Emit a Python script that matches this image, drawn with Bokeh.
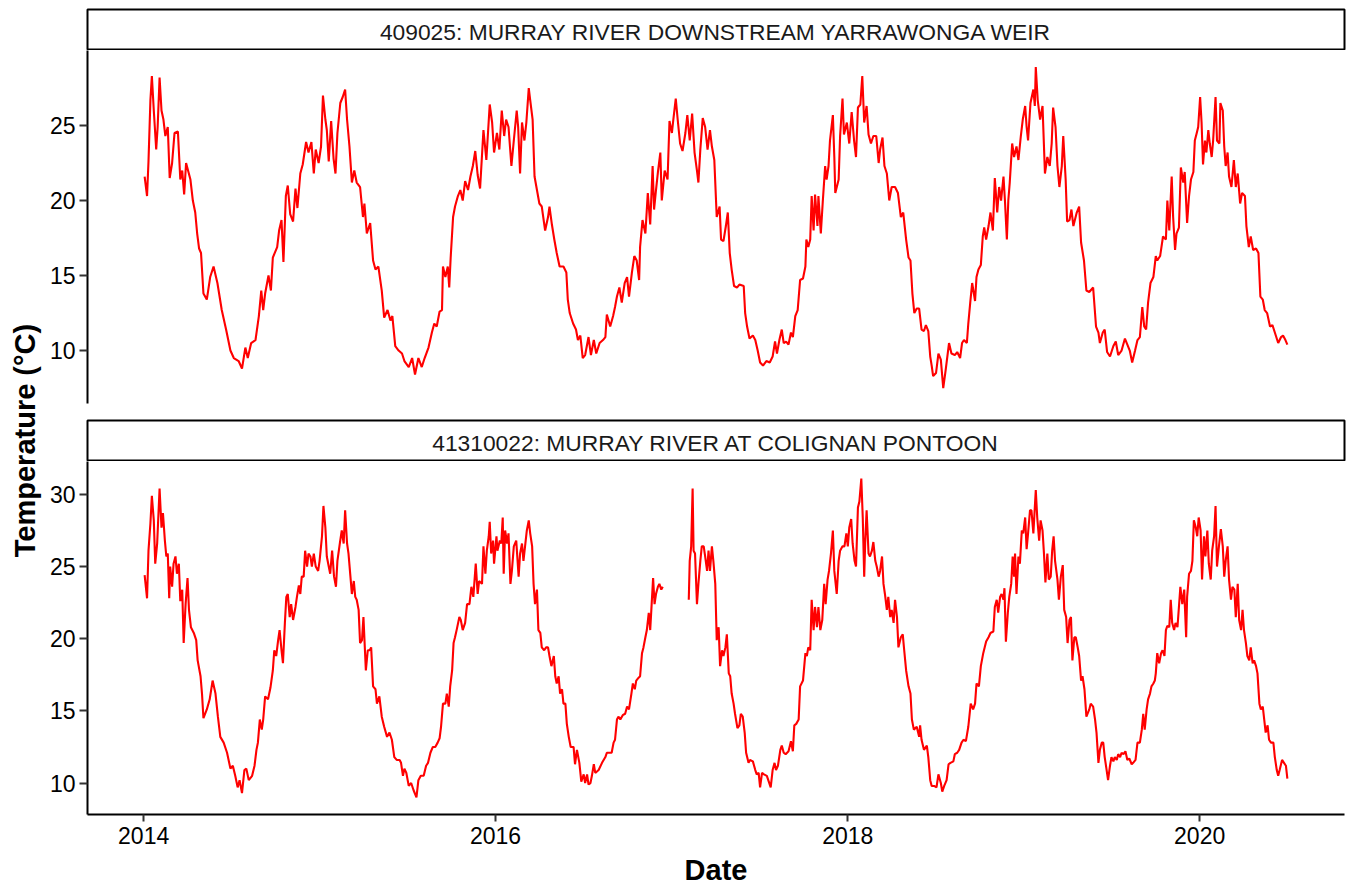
import math
import numpy as np
from bokeh.plotting import figure
from bokeh.models import Range1d, FixedTicker, DatetimeTickFormatter, ColumnDataSource
from bokeh.layouts import column, row
from bokeh.core.properties import value
from bokeh.embed import file_html
from bokeh.resources import INLINE

# ---------------- data (day offset from 2014-01-01, water temperature degC) ----------------
strip_titles = ["409025: MURRAY RIVER DOWNSTREAM YARRAWONGA WEIR",
                "41310022: MURRAY RIVER AT COLIGNAN PONTOON"]

station_409025 = [
    (2,21.6),(7,20.3),(10,22.6),(14,26.7),(17,28.3),(21,26.0),(26,23.4),(29,24.9),(33,28.2),(37,26.0),
    (41,25.4),(45,24.3),(50,24.9),(54,21.5),(59,22.5),(64,24.5),(71,24.6),(76,21.4),(80,22.0),(84,20.4),
    (88,22.5),(97,21.4),(102,20.0),(107,19.2),(111,17.8),(115,16.8),(119,16.5),(124,13.8),(131,13.4),(138,14.9),
    (145,15.6),(153,14.5),(162,12.7),(171,11.4),(180,10.0),(187,9.5),(197,9.3),(204,8.8),(211,10.2),(216,9.5),
    (223,10.5),(232,10.7),(239,12.3),(244,14.0),(248,12.7),(252,13.8),(259,15.0),(264,14.0),(268,16.2),(277,16.9),
    (281,18.0),(286,18.7),(290,15.9),(295,20.3),(299,21.0),(304,19.1),(310,18.6),(315,20.8),(319,19.5),(325,21.8),
    (330,22.4),(337,23.9),(342,23.2),(348,23.9),(353,21.8),(357,23.4),(363,22.5),(368,23.6),(372,27.0),(377,25.4),
    (380,24.7),(384,22.6),(389,25.3),(394,22.8),(398,21.8),(402,24.5),(408,26.5),(413,26.9),(418,27.4),(422,25.4),
    (427,23.6),(432,21.2),(437,22.0),(442,21.2),(449,20.9),(455,18.9),(458,19.8),(463,17.8),(470,18.5),(476,16.0),
    (481,15.4),(487,15.6),(494,14.0),(499,12.2),(506,12.7),(512,12.0),(516,12.3),(522,10.3),(529,10.0),(536,9.8),
    (541,9.3),(550,8.9),(557,9.5),(563,8.4),(570,9.5),(577,8.9),(583,9.5),(591,10.2),(598,11.2),(603,11.8),
    (608,11.6),(614,12.6),(619,12.7),(621,15.6),(626,14.9),(631,15.6),(634,14.2),(637,16.2),(642,18.9),(646,19.6),
    (652,20.3),(657,20.7),(662,20.0),(667,21.3),(673,20.7),(678,21.6),(683,22.3),(688,23.3),(693,21.7),(698,20.8),
    (705,24.7),(711,22.7),(718,26.4),(723,25.2),(727,23.2),(733,24.5),(738,23.4),(743,26.0),(748,24.3),(752,25.4),
    (757,24.9),(763,22.3),(768,24.0),(774,26.0),(777,24.9),(781,21.8),(785,25.2),(790,24.0),(794,25.2),(799,27.5),
    (802,26.7),(807,25.4),(811,21.6),(816,20.7),(821,19.8),(826,19.6),(833,18.0),(839,18.9),(842,19.6),(847,18.4),
    (852,17.4),(857,16.5),(863,15.6),(871,15.6),(877,15.2),(880,13.4),(884,12.5),(891,11.8),(897,11.4),(901,10.7),
    (906,11.0),(911,9.5),(916,9.7),(923,10.9),(928,9.7),(934,10.7),(939,9.8),(946,10.5),(953,10.7),(958,10.9),
    (961,12.4),(968,11.6),(974,12.3),(978,12.9),(982,13.6),(987,14.2),(992,13.2),(998,14.5),(1003,14.9),(1007,13.6),
    (1013,15.2),(1018,16.3),(1023,16.0),(1028,14.7),(1030,16.9),(1035,18.7),(1041,17.8),(1046,20.5),(1051,18.4),(1056,22.3),
    (1059,19.4),(1063,20.7),(1067,21.9),(1072,23.2),(1075,20.0),(1081,22.0),(1087,21.4),(1091,25.3),(1096,24.5),(1099,25.4),
    (1104,26.8),(1108,25.4),(1113,23.8),(1118,23.3),(1124,24.5),(1128,25.7),(1133,24.0),(1138,25.8),(1143,23.2),(1148,22.0),
    (1151,21.2),(1155,23.4),(1160,25.5),(1165,24.9),(1170,23.4),(1175,24.7),(1179,23.6),(1184,22.7),(1189,18.9),(1195,19.6),
    (1198,17.4),(1203,17.3),(1208,18.3),(1212,19.2),(1216,16.5),(1220,15.4),(1225,14.3),(1231,14.2),(1236,14.4),(1245,14.3),
    (1248,12.5),(1252,11.6),(1257,10.8),(1264,11.0),(1269,10.7),(1274,10.0),(1279,9.2),(1285,9.0),(1292,9.3),(1299,9.2),
    (1305,9.6),(1310,10.6),(1314,9.8),(1319,10.7),(1324,11.4),(1328,10.5),(1333,10.6),(1338,10.4),(1343,11.2),(1347,10.9),
    (1352,12.3),(1357,12.7),(1362,14.7),(1368,14.8),(1373,15.6),(1375,17.4),(1379,16.9),(1383,17.4),(1386,20.3),(1390,18.0),
    (1393,20.4),(1398,18.3),(1400,20.3),(1405,17.8),(1409,19.9),(1414,22.3),(1417,21.4),(1421,22.3),(1424,24.0),(1430,25.7),
    (1433,22.9),(1435,20.5),(1442,21.4),(1445,24.3),(1450,26.8),(1453,24.4),(1459,25.2),(1464,23.8),(1469,25.9),(1474,24.0),
    (1478,22.9),(1482,26.2),(1487,26.4),(1491,28.3),(1495,25.2),(1500,26.3),(1504,24.4),(1509,23.8),(1514,24.3),(1520,24.3),
    (1525,22.5),(1528,23.4),(1533,24.2),(1537,22.3),(1542,21.8),(1547,20.0),(1552,20.9),(1559,20.9),(1565,20.5),(1571,18.9),
    (1576,19.2),(1582,17.4),(1587,16.2),(1591,16.0),(1595,13.8),(1599,12.5),(1604,12.8),(1609,12.8),(1614,11.4),(1619,11.3),
    (1623,11.7),(1628,11.3),(1632,9.6),(1635,9.0),(1638,8.3),(1644,8.5),(1649,9.8),(1654,9.4),(1659,7.5),(1664,8.7),
    (1671,10.5),(1676,9.8),(1683,9.7),(1688,9.9),(1694,9.5),(1698,10.5),(1702,10.7),(1708,10.5),(1711,11.8),(1715,13.2),
    (1719,14.5),(1725,13.3),(1728,14.9),(1732,15.4),(1737,15.7),(1741,17.6),(1744,18.2),(1748,17.4),(1753,18.3),(1757,19.2),
    (1762,18.0),(1766,21.5),(1771,19.2),(1775,20.9),(1779,20.0),(1784,21.6),(1787,20.0),(1791,17.4),(1794,20.0),(1797,21.2),
    (1802,23.8),(1806,22.9),(1811,23.6),(1815,22.7),(1820,24.3),(1824,25.4),(1829,26.3),(1832,24.9),(1835,24.0),(1840,26.5),
    (1846,27.4),(1849,26.3),(1851,28.9),(1855,26.7),(1860,25.4),(1865,26.3),(1870,21.8),(1875,22.9),(1880,22.3),(1884,23.8),
    (1887,26.2),(1892,24.9),(1896,22.3),(1900,20.9),(1905,22.3),(1908,24.3),(1913,21.4),(1916,18.6),(1921,18.7),(1925,19.4),
    (1929,18.3),(1936,19.2),(1941,19.6),(1945,17.2),(1951,16.0),(1956,14.0),(1962,13.9),(1970,14.2),(1976,11.6),(1981,11.2),
    (1984,10.5),(1990,11.2),(1994,11.4),(1999,9.9),(2005,9.6),(2012,10.3),(2017,10.6),(2022,9.7),(2029,10.0),(2036,10.8),
    (2041,10.4),(2046,10.0),(2051,9.2),(2057,10.0),(2062,10.7),(2067,10.9),(2072,12.9),(2076,11.6),(2080,11.4),(2084,13.2),
    (2089,14.5),(2095,14.9),(2100,16.3),(2103,16.0),(2109,16.3),(2115,17.6),(2121,17.4),(2124,20.0),(2128,18.0),(2133,21.6),
    (2136,18.9),(2140,16.7),(2143,17.8),(2148,18.2),(2152,22.2),(2157,21.2),(2160,21.9),(2165,18.5),(2169,20.3),(2173,21.4),
    (2178,21.9),(2181,24.0),(2185,24.5),(2188,24.9),(2192,26.9),(2195,25.2),(2198,22.4),(2202,24.0),(2205,23.2),(2209,24.7),
    (2212,23.8),(2216,22.9),(2219,24.0),(2224,26.9),(2227,24.0),(2232,23.8),(2234,26.5),(2239,26.0),(2242,23.6),(2245,22.3),
    (2249,23.2),(2252,21.6),(2257,20.9),(2262,22.7),(2266,20.9),(2270,21.8),(2275,19.8),(2279,20.5),(2285,20.3),(2288,18.3),
    (2293,16.9),(2297,17.6),(2302,16.7),(2308,16.8),(2313,16.5),(2317,13.6),(2322,13.4),(2326,12.7),(2331,12.5),(2337,11.6),
    (2342,11.7),(2347,11.2),(2354,10.5),(2360,10.9),(2364,11.0),(2369,10.7),(2373,10.4),
]

station_41310022 = [
    (2,24.4),(7,22.8),(10,26.1),(14,28.0),(17,29.9),(21,28.2),(24,25.2),(28,26.6),(31,28.9),(33,30.4),
    (37,27.7),(40,28.7),(44,26.8),(47,25.7),(50,25.9),(53,22.8),(55,25.0),(59,23.6),(62,25.2),(66,25.7),
    (69,24.5),(73,25.2),(76,22.6),(80,23.4),(83,19.7),(87,22.4),(91,24.2),(94,22.0),(98,20.8),(104,20.4),
    (109,19.9),(112,18.5),(118,17.4),(121,16.2),(124,14.5),(131,15.1),(137,15.8),(143,17.1),(149,16.2),(154,14.6),
    (159,13.2),(166,12.8),(173,12.1),(180,11.0),(185,11.2),(190,10.5),(195,9.7),(199,10.2),(204,9.3),(209,10.9),
    (213,11.0),(218,10.2),(225,10.5),(230,11.2),(234,12.3),(237,12.8),(241,14.4),(245,13.7),(248,14.4),(252,16.0),
    (258,15.8),(263,16.6),(268,17.8),(271,19.2),(275,18.8),(279,19.9),(282,20.6),(286,19.2),(289,18.3),(293,21.1),
    (296,22.9),(299,23.1),(303,21.5),(306,22.4),(310,21.3),(315,22.2),(318,22.9),(322,23.7),(325,23.1),(328,24.3),
    (332,24.3),(335,26.1),(339,25.0),(342,25.9),(346,25.7),(349,25.0),(353,25.9),(357,25.0),(362,24.7),(365,25.4),
    (370,27.1),(373,29.2),(377,27.7),(380,25.7),(384,25.0),(387,24.5),(391,26.1),(395,24.3),(399,23.6),(402,25.4),
    (407,26.6),(411,27.5),(415,26.6),(418,28.9),(422,26.6),(425,25.9),(429,24.3),(432,23.1),(436,24.0),(439,22.9),
    (442,22.7),(446,22.0),(449,19.7),(453,19.9),(456,21.5),(461,17.8),(465,19.2),(469,19.2),(472,19.4),(476,16.7),
    (481,16.5),(484,15.5),(489,16.0),(494,14.6),(499,13.9),(505,13.2),(510,13.5),(515,13.0),(520,11.8),(525,11.6),
    (531,11.6),(534,11.4),(538,10.5),(541,11.0),(545,10.7),(550,9.8),(555,10.0),(560,9.5),(566,9.0),(570,10.2),
    (575,10.5),(581,10.5),(586,11.2),(590,11.4),(595,12.1),(600,12.5),(605,12.5),(610,12.8),(614,13.1),(617,13.9),
    (621,15.5),(626,15.5),(629,16.2),(633,15.3),(636,16.7),(640,17.8),(643,19.7),(646,20.1),(650,20.7),(655,21.5),
    (658,21.3),(662,20.6),(667,21.1),(671,22.4),(676,22.4),(680,23.6),(684,22.9),(689,25.2),(693,23.1),(696,24.0),
    (702,23.8),(705,26.4),(709,24.5),(712,26.1),(716,27.1),(718,28.1),(721,25.9),(725,26.8),(727,25.2),(732,27.1),
    (734,26.1),(739,26.8),(742,26.6),(745,28.4),(747,24.5),(750,27.5),(754,26.6),(757,27.3),(761,23.8),(764,24.7),
    (768,26.4),(773,26.8),(778,24.3),(781,25.9),(785,26.6),(788,25.4),(792,26.6),(795,27.5),(799,28.2),(802,27.3),
    (806,26.4),(809,23.8),(812,22.4),(816,23.4),(819,20.6),(823,20.4),(826,19.4),(831,19.2),(835,19.4),(839,19.4),
    (842,18.8),(846,18.1),(851,18.8),(854,17.4),(857,16.9),(861,17.4),(864,16.2),(868,16.5),(871,15.5),(875,15.5),
    (878,14.1),(882,13.2),(886,12.5),(892,12.5),(895,11.3),(899,12.3),(904,11.4),(908,10.1),(913,10.6),(916,10.0),
    (920,10.6),(923,9.9),(927,10.0),(930,10.5),(934,11.3),(937,10.7),(944,10.9),(951,11.4),(958,11.8),(961,12.1),
    (965,12.1),(971,12.1),(975,12.8),(978,13.0),(982,14.4),(985,14.6),(989,14.4),(994,14.7),(999,14.8),(1003,15.3),
    (1007,15.1),(1012,16.2),(1015,16.9),(1019,16.5),(1022,17.1),(1027,17.3),(1030,17.4),(1034,19.0),(1037,19.4),(1041,20.1),
    (1044,20.6),(1048,21.8),(1051,20.6),(1054,22.4),(1057,24.2),(1060,22.4),(1063,23.1),(1067,23.6),(1070,23.8),(1074,23.4),
    (1077,23.6),(1100,float("nan")),
    (1131,22.7),(1133,25.4),(1136,26.4),(1139,30.4),(1141,26.1),(1144,25.9),(1148,22.4),(1151,23.8),(1155,25.4),(1158,26.4),
    (1162,26.4),(1165,25.7),(1169,24.7),(1172,26.1),(1175,24.7),(1179,26.4),(1182,25.4),(1186,23.8),(1189,19.9),(1193,20.8),
    (1196,18.1),(1200,19.2),(1203,18.8),(1207,19.4),(1210,20.3),(1214,17.6),(1217,17.4),(1220,16.2),(1224,15.5),(1227,14.8),
    (1232,13.8),(1236,14.0),(1239,14.8),(1243,14.6),(1247,13.5),(1250,12.1),(1255,11.4),(1258,11.6),(1264,11.5),(1269,10.9),
    (1272,10.6),(1276,10.7),(1279,9.7),(1283,10.7),(1287,10.6),(1293,10.5),(1297,10.1),(1301,9.7),(1305,10.9),(1309,11.4),
    (1312,10.9),(1316,11.2),(1321,12.3),(1324,12.6),(1328,12.1),(1332,12.0),(1338,12.2),(1343,12.9),(1347,12.2),(1350,14.0),
    (1354,14.1),(1359,14.4),(1362,16.7),(1368,17.1),(1373,19.0),(1376,18.8),(1379,19.4),(1383,19.2),(1386,22.7),(1390,20.6),
    (1393,22.2),(1397,20.8),(1400,22.2),(1404,20.6),(1408,21.3),(1412,23.8),(1415,22.4),(1419,24.1),(1422,24.7),(1426,25.9),
    (1430,27.5),(1433,24.7),(1438,23.1),(1442,25.4),(1445,26.1),(1450,26.4),(1454,26.4),(1458,27.3),(1461,26.4),(1464,27.7),
    (1468,28.3),(1471,26.6),(1475,25.4),(1478,25.0),(1482,29.1),(1485,29.5),(1489,31.1),(1492,28.4),(1495,24.3),(1497,26.6),
    (1500,28.9),(1504,25.9),(1507,25.7),(1511,26.1),(1514,26.7),(1518,25.4),(1521,25.0),(1525,24.3),(1528,24.7),(1532,25.7),
    (1535,23.8),(1538,23.1),(1542,22.0),(1545,22.9),(1549,21.5),(1552,22.0),(1556,21.1),(1559,22.7),(1563,21.5),(1566,19.4),
    (1571,20.1),(1575,20.3),(1578,19.2),(1582,17.8),(1587,16.7),(1591,16.2),(1594,14.4),(1598,13.7),(1604,13.9),(1609,13.2),
    (1611,14.0),(1614,13.0),(1619,12.3),(1625,12.6),(1628,11.8),(1632,10.2),(1635,9.8),(1640,9.8),(1645,9.7),(1649,10.6),
    (1654,10.0),(1657,9.4),(1661,9.8),(1666,10.2),(1670,11.3),(1674,11.4),(1680,11.5),(1683,12.0),(1688,12.1),(1692,12.3),
    (1697,12.8),(1701,13.0),(1706,12.9),(1711,13.9),(1716,15.5),(1721,15.1),(1725,15.5),(1728,16.9),(1733,16.7),(1737,18.1),
    (1742,19.0),(1748,19.8),(1753,20.1),(1757,20.4),(1763,20.5),(1766,22.2),(1770,22.7),(1773,21.8),(1777,22.9),(1780,23.1),
    (1784,22.7),(1786,23.5),(1789,19.8),(1793,21.8),(1796,22.9),(1800,23.8),(1803,25.7),(1806,24.3),(1808,25.9),(1811,23.1),
    (1815,25.7),(1818,25.2),(1822,27.5),(1825,27.3),(1829,28.4),(1832,26.2),(1835,27.3),(1839,28.9),(1842,28.9),(1846,27.3),
    (1849,29.1),(1851,30.3),(1854,28.4),(1858,26.8),(1861,28.2),(1865,27.5),(1868,25.9),(1871,23.9),(1875,25.9),(1878,24.1),
    (1882,24.3),(1885,26.1),(1888,27.1),(1891,25.4),(1896,24.1),(1899,22.7),(1903,24.3),(1907,25.1),(1910,22.0),(1914,21.5),
    (1917,19.7),(1921,21.3),(1924,21.5),(1927,18.5),(1931,20.1),(1934,20.1),(1938,19.4),(1941,18.8),(1945,17.1),(1948,17.4),
    (1952,16.5),(1956,14.6),(1962,15.1),(1965,15.5),(1970,15.3),(1974,14.4),(1977,13.5),(1981,11.4),(1984,12.3),(1988,12.8),
    (1991,12.8),(1994,11.8),(1998,10.9),(2001,10.2),(2005,11.2),(2008,11.8),(2012,11.5),(2015,11.8),(2019,11.6),(2022,12.0),
    (2026,11.8),(2029,12.1),(2033,12.0),(2037,12.2),(2041,11.6),(2045,11.7),(2050,11.3),(2053,11.4),(2058,11.6),(2062,12.8),
    (2067,12.8),(2071,13.7),(2074,14.8),(2077,13.7),(2081,15.1),(2084,15.8),(2088,16.2),(2091,16.7),(2095,16.9),(2098,17.1),
    (2100,17.6),(2103,19.0),(2107,18.3),(2111,19.0),(2114,19.2),(2118,18.8),(2121,20.6),(2124,20.9),(2128,20.8),(2131,22.7),
    (2134,21.1),(2138,20.6),(2141,21.1),(2145,20.8),(2148,22.2),(2151,23.6),(2155,22.4),(2159,23.4),(2163,20.1),(2165,22.9),
    (2169,24.5),(2173,24.7),(2176,25.4),(2179,28.2),(2183,27.7),(2186,27.1),(2189,28.4),(2193,27.5),(2196,24.1),(2200,27.1),
    (2203,25.7),(2207,27.5),(2210,25.2),(2214,24.1),(2217,26.1),(2221,27.1),(2224,29.2),(2227,25.0),(2231,26.4),(2235,27.6),
    (2239,26.4),(2242,24.3),(2245,25.4),(2249,26.4),(2252,24.1),(2256,22.7),(2259,23.6),(2263,23.4),(2266,21.5),(2270,23.8),
    (2273,21.3),(2277,20.6),(2280,22.0),(2283,20.6),(2287,19.7),(2290,18.8),(2294,18.5),(2297,19.4),(2301,18.3),(2304,18.5),
    (2308,18.1),(2311,17.6),(2315,15.5),(2318,15.1),(2322,15.3),(2325,14.4),(2328,13.5),(2332,14.0),(2335,13.0),(2339,12.8),
    (2344,12.8),(2347,11.8),(2351,10.9),(2354,10.5),(2357,10.9),(2362,11.6),(2366,11.4),(2370,11.2),(2373,10.3),
]

start_date = "2014-01-01"
x_tick_years = [2014, 2016, 2018, 2020]
y_ticks_top = [10, 15, 20, 25]
y_ticks_bottom = [10, 15, 20, 25, 30]
y_limits_top = (6.47, 30.0)
y_limits_bottom = (7.82, 32.28)
x_label = "Date"
y_label = "Temperature (\u00b0C)"

# ---------------- helpers ----------------
FONT = value("Liberation Sans")
origin = np.datetime64(start_date)


def to_source(series):
    days = np.array([d for d, _ in series], dtype=float)
    temps = np.array([t for _, t in series], dtype=float)
    dates = origin + (days * 86400000).astype("timedelta64[ms]")
    return ColumnDataSource(dict(date=dates, temp=temps)), days


src_top, days_top = to_source(station_409025)
src_bot, days_bot = to_source(station_41310022)
all_days = np.concatenate([days_top, days_bot])
pad = 0.05 * (all_days.max() - all_days.min())
x_start = origin + np.timedelta64(int((all_days.min() - pad) * 86400000), "ms")
x_end = origin + np.timedelta64(int((all_days.max() + pad) * 86400000), "ms")
x_range = Range1d(start=x_start, end=x_end)

tick_ms = [float((np.datetime64(f"{y}-01-01") - np.datetime64("1970-01-01")) / np.timedelta64(1, "ms"))
           for y in x_tick_years]

COL_W = 1304
LEFT = 42
RIGHT = 5
TICK_FONT = "23px"


def strip(title, height, top):
    s = figure(width=COL_W, height=height, x_range=Range1d(0, 1), y_range=Range1d(0, 1),
               output_backend="svg", toolbar_location=None,
               min_border_left=LEFT, min_border_right=RIGHT, min_border_top=top, min_border_bottom=0)
    s.axis.visible = False
    s.grid.visible = False
    s.outline_line_color = "black"
    s.outline_line_width = 2
    s.background_fill_color = "white"
    s.border_fill_color = "white"
    s.text(x=[0.5], y=[0.45], text=[title], text_align="center", text_baseline="middle",
           text_font=FONT, text_font_size="22.8px", text_color="#1A1A1A")
    return s


def panel(src, height, bottom, yr, yticks, show_x):
    p = figure(width=COL_W, height=height, x_range=x_range, y_range=Range1d(*yr),
               x_axis_type="datetime", output_backend="svg", toolbar_location=None,
               min_border_left=LEFT, min_border_right=RIGHT, min_border_top=0, min_border_bottom=bottom)
    p.grid.visible = False
    p.outline_line_color = None
    p.background_fill_color = "white"
    p.border_fill_color = "white"
    p.line(x="date", y="temp", source=src, line_color="#FF0000", line_width=2.1)

    ya = p.yaxis[0]
    ya.ticker = FixedTicker(ticks=yticks)
    ya.axis_line_color = "black"
    ya.axis_line_width = 2
    ya.major_tick_line_color = "#333333"
    ya.major_tick_line_width = 2
    ya.major_tick_out = 8
    ya.major_tick_in = 0
    ya.minor_tick_line_color = None
    ya.major_label_standoff = 4
    ya.major_label_text_font = "Liberation Sans"
    ya.major_label_text_font_size = TICK_FONT
    ya.major_label_text_color = "black"

    xa = p.xaxis[0]
    if show_x:
        xa.ticker = FixedTicker(ticks=tick_ms)
        xa.formatter = DatetimeTickFormatter(years="%Y", months="%Y", days="%Y", hours="%Y",
                                             minutes="%Y", seconds="%Y", milliseconds="%Y",
                                             microseconds="%Y")
        xa.axis_line_color = "black"
        xa.axis_line_width = 2
        xa.major_tick_line_color = "#333333"
        xa.major_tick_line_width = 2
        xa.major_tick_out = 7
        xa.major_tick_in = 0
        xa.minor_tick_line_color = None
        xa.major_label_standoff = 5
        xa.major_label_text_font = "Liberation Sans"
        xa.major_label_text_font_size = TICK_FONT
        xa.major_label_text_color = "black"
        xa.axis_label = x_label
        xa.axis_label_text_font = "Liberation Sans"
        xa.axis_label_text_font_size = "29px"
        xa.axis_label_text_font_style = "bold"
        xa.axis_label_text_color = "black"
        xa.axis_label_standoff = 7
    else:
        xa.visible = False
    return p


strip1 = strip(strip_titles[0], 50, 9)
top = panel(src_top, 360, 7, y_limits_top, y_ticks_top, False)
strip2 = strip(strip_titles[1], 51, 10)
bottom = panel(src_bot, 427, 73, y_limits_bottom, y_ticks_bottom, True)

ylab = figure(width=45, height=888, x_range=Range1d(0, 45), y_range=Range1d(0, 888),
              output_backend="svg", toolbar_location=None,
              min_border_left=0, min_border_right=0, min_border_top=0, min_border_bottom=0)
ylab.axis.visible = False
ylab.grid.visible = False
ylab.outline_line_color = None
ylab.background_fill_color = "white"
ylab.border_fill_color = "white"
ylab.text(x=[24], y=[888 - 440], text=[y_label], angle=math.pi / 2, text_align="center",
          text_baseline="middle", text_font=FONT, text_font_size="29px", text_font_style="bold",
          text_color="black")

layout = row(ylab, column(strip1, top, strip2, bottom, spacing=0), spacing=0)

open("out.html", "w").write(file_html(layout, INLINE))
